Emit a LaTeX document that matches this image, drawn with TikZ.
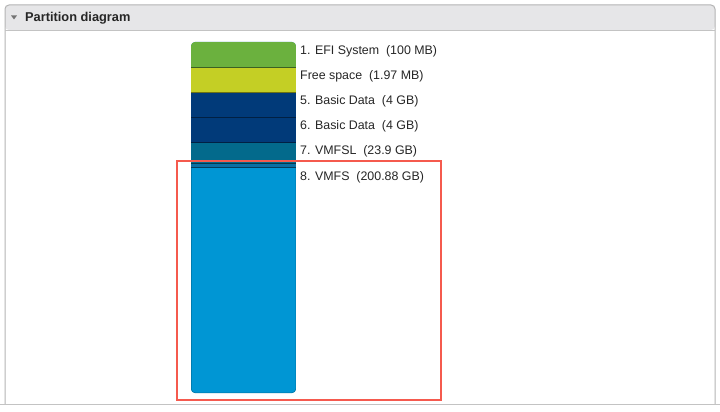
\documentclass[tikz,border=0pt]{standalone}
\usepackage{fontspec}
\setmainfont{Liberation Sans}
\definecolor{hdr}{HTML}{E6E6E8}
\definecolor{frame}{HTML}{B4B4B4}
\definecolor{efi}{HTML}{6BB13E}
\definecolor{free}{HTML}{C4CF25}
\definecolor{basic}{HTML}{013A79}
\definecolor{vmfsl}{HTML}{036A8C}
\definecolor{strip}{HTML}{0A6FA3}
\definecolor{vmfs}{HTML}{0096D4}
\definecolor{redbox}{HTML}{F55A4E}
\begin{document}
\begin{tikzpicture}[x=1pt,y=-1pt,
  seg/.style={fill=#1, minimum width=105pt, inner sep=0pt, anchor=north west},
  sep/.style={draw=black!45!#1, line width=0.8pt},
  lbl/.style={anchor=west, inner sep=0pt, font=\fontsize{12.4}{14}\selectfont, text=black!85}]
\useasboundingbox[fill=white] (0,0) rectangle (720,412);
% panel
\fill[hdr, rounded corners=4pt] (5,5) rectangle (715,30);
\draw[frame, line width=1pt, rounded corners=4pt] (5,404) -- (5,5) -- (715,5) -- (715,404);
\draw[frame!80, line width=0.8pt] (5,30) -- (715,30);
\draw[frame!80, line width=1pt] (0,404) -- (720,404);
\fill[black!55] (11,15.5) -- (17,15.5) -- (14,19.5) -- cycle;
\node[anchor=west, inner sep=0pt, font=\bfseries\fontsize{12.8}{14}\selectfont, text=black!85] (title) at (25,18.5) {Partition diagram};
% bar
\begin{scope}
\clip[rounded corners=4pt] (191,42) rectangle (296,393);
\fill[vmfs] (191,167) rectangle (296,393);
\draw[black!25!vmfs, line width=1pt, rounded corners=4pt] (191,42) rectangle (296,393);
\node[seg=efi, minimum height=25pt] (p1) at (191,42) {};
\node[seg=free, minimum height=25pt] (p2) at (191,67) {};
\node[seg=basic, minimum height=25pt] (p3) at (191,92) {};
\node[seg=basic, minimum height=25pt] (p4) at (191,117) {};
\node[seg=vmfsl, minimum height=21pt] (p5) at (191,142) {};
\node[seg=strip, minimum height=4pt] (p6) at (191,163) {};
\draw[sep=efi] (p1.south west) -- (p1.south east);
\draw[sep=free] (p2.south west) -- (p2.south east);
\draw[sep=basic] (p3.south west) -- (p3.south east);
\draw[sep=basic] (p4.south west) -- (p4.south east);
\draw[sep=vmfsl] (p5.south west) -- (p5.south east);
\draw[sep=strip] (p6.south west) -- (p6.south east);
\end{scope}
% labels
\node[lbl] (l1) at (300,51) {1. EFI System\ \ (100 MB)};
\node[lbl] (l2) at (300,76) {Free space\ \ (1.97 MB)};
\node[lbl] (l3) at (300,101) {5. Basic Data\ \ (4 GB)};
\node[lbl] (l4) at (300,126) {6. Basic Data\ \ (4 GB)};
\node[lbl] (l5) at (300,151) {7. VMFSL\ \ (23.9 GB)};
\node[lbl] (l6) at (300,177) {8. VMFS\ \ (200.88 GB)};
% highlight
\draw[redbox, line width=2.2pt] (177,161) rectangle (441,400);
\end{tikzpicture}
\end{document}
